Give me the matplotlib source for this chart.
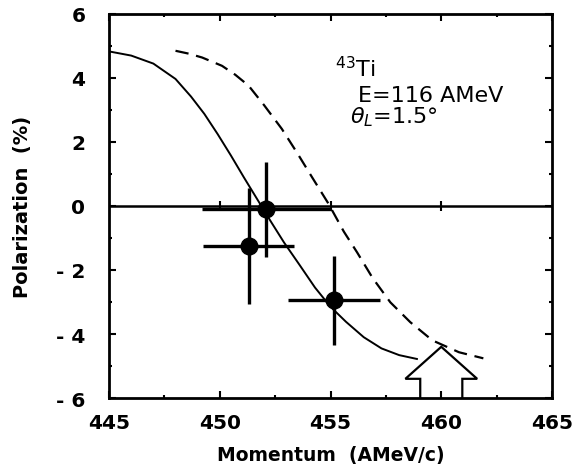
import numpy as np
import matplotlib
matplotlib.use("Agg")
import matplotlib.pyplot as plt
from matplotlib.patches import Polygon

# calculated polarization curves
solid_x = [445.0, 446.0, 447.0, 448.0, 448.7, 449.3, 449.9, 450.5, 451.1, 451.7,
           452.3, 452.9, 453.6, 454.3, 455.0, 455.7, 456.5, 457.3, 458.1, 458.9]
solid_y = [4.83, 4.70, 4.45, 3.97, 3.42, 2.88, 2.25, 1.58, 0.88, 0.20,
           -0.48, -1.14, -1.84, -2.55, -3.15, -3.62, -4.10, -4.45, -4.66, -4.78]

dashed_x = [448.0, 448.6, 449.2, 450.1, 450.7, 451.3, 452.0, 452.8, 453.5, 454.2,
            454.9, 455.6, 456.2, 456.9, 457.7, 458.6, 459.6, 460.8, 461.9]
dashed_y = [4.85, 4.76, 4.64, 4.38, 4.10, 3.76, 3.15, 2.41, 1.65, 0.86,
            0.08, -0.80, -1.45, -2.25, -3.01, -3.63, -4.20, -4.57, -4.76]

# measured points
data_x = [451.3, 452.1, 455.15]
data_y = [-1.25, -0.1, -2.95]
data_xerr = [2.05, 2.9, 2.07]
data_yerr = [1.82, 1.48, 1.4]

# arrow marking the expected momentum
arrow_x = 460.0
arrow_tip = -4.4

xticks = [445, 450, 455, 460, 465]
yticks = [-6, -4, -2, 0, 2, 4, 6]
ytick_labels = ["- 6", "- 4", "- 2", "0", "2", "4", "6"]

fig = plt.figure(figsize=(5.74, 4.77), dpi=100)
ax = fig.add_axes([0.19, 0.1635, 0.7717, 0.8051])

ax.axhline(0, color="black", lw=1.8, zorder=2)
ax.plot([450, 455, 460], [0, 0, 0], ls="none", marker="|", ms=7, mew=1.5,
        color="black", zorder=2)

ax.plot(solid_x, solid_y, color="black", lw=1.4, zorder=3)
ax.plot(dashed_x, dashed_y, color="black", lw=1.6, dashes=(6, 3.5), zorder=3)

ax.errorbar(data_x, data_y, xerr=data_xerr, yerr=data_yerr, fmt="o",
            color="black", ms=12, elinewidth=2.4, capsize=0, zorder=4)

# hollow up arrow
hw, sw, hl = 1.62, 0.95, 1.0
arrow = Polygon([(arrow_x - sw, -6), (arrow_x - sw, arrow_tip - hl),
                 (arrow_x - hw, arrow_tip - hl), (arrow_x, arrow_tip),
                 (arrow_x + hw, arrow_tip - hl), (arrow_x + sw, arrow_tip - hl),
                 (arrow_x + sw, -6)],
                closed=False, fill=False, edgecolor="black", lw=1.6, zorder=3)
ax.add_patch(arrow)

ax.text(455.2, 4.06, r"$^{43}$Ti", fontsize=16, va="baseline")
ax.text(456.24, 3.28, "E=116 AMeV", fontsize=16, va="baseline")
ax.text(455.88, 2.62, r"$\theta_L$=1.5°", fontsize=16, va="baseline")

ax.set_xlim(445, 465)
ax.set_ylim(-6, 6)
ax.set_xticks(xticks)
ax.set_xticks(np.arange(445, 465.1, 2.5), minor=True)
ax.set_yticks(yticks)
ax.set_yticklabels(ytick_labels)
ax.set_yticks(np.arange(-6, 6.1, 1), minor=True)

ax.tick_params(which="both", direction="in", top=True, right=True, width=1.5)
ax.tick_params(which="major", length=5)
ax.tick_params(which="minor", length=2.2)
ax.tick_params(axis="x", pad=11, labelsize=14.5)
ax.tick_params(axis="y", pad=17, labelsize=14.5)
for lab in ax.get_xticklabels() + ax.get_yticklabels():
    lab.set_fontweight("bold")
for sp in ax.spines.values():
    sp.set_linewidth(2)

ax.set_xlabel("Momentum  (AMeV/c)", fontsize=13.5, fontweight="bold", labelpad=9)
ax.set_ylabel("Polarization  (%)", fontsize=14, fontweight="bold", labelpad=17)

fig.savefig("out.png", dpi=100)
